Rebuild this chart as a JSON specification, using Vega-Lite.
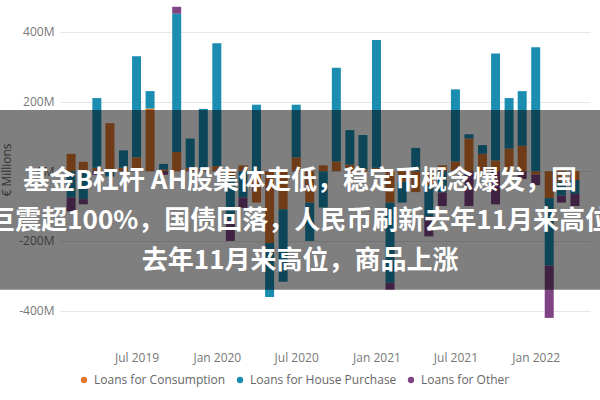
{
  "$schema": "https://vega.github.io/schema/vega-lite/v6.json",
  "width": 530,
  "height": 331,
  "autosize": "none",
  "padding": {"left": 60, "top": 4, "right": 10, "bottom": 65},
  "background": "white",
  "config": {
    "font": "Open Sans",
    "view": {"stroke": null},
    "legend": {
      "orient": "none",
      "legendX": 18,
      "legendY": 370,
      "direction": "horizontal",
      "symbolType": "circle",
      "symbolSize": 40,
      "labelFontSize": 12,
      "labelColor": "#666666",
      "columnPadding": 8,
      "labelOffset": 4
    }
  },
  "layer": [
    {
      "data": {
        "values": [
          {"month": "2019-02-01", "type": "Loans for Consumption", "value": 50},
          {"month": "2019-02-01", "type": "Loans for House Purchase", "value": -75},
          {"month": "2019-02-01", "type": "Loans for Other", "value": -40},
          {"month": "2019-03-01", "type": "Loans for Consumption", "value": 27},
          {"month": "2019-03-01", "type": "Loans for House Purchase", "value": -80},
          {"month": "2019-03-01", "type": "Loans for Other", "value": -15},
          {"month": "2019-04-01", "type": "Loans for Consumption", "value": 10},
          {"month": "2019-04-01", "type": "Loans for House Purchase", "value": 200},
          {"month": "2019-04-01", "type": "Loans for Other", "value": -10},
          {"month": "2019-05-01", "type": "Loans for Consumption", "value": 138},
          {"month": "2019-05-01", "type": "Loans for House Purchase", "value": -15},
          {"month": "2019-06-01", "type": "Loans for Consumption", "value": 10},
          {"month": "2019-06-01", "type": "Loans for House Purchase", "value": 50},
          {"month": "2019-07-01", "type": "Loans for Consumption", "value": 40},
          {"month": "2019-07-01", "type": "Loans for House Purchase", "value": 290},
          {"month": "2019-08-01", "type": "Loans for Consumption", "value": 180},
          {"month": "2019-08-01", "type": "Loans for House Purchase", "value": 50},
          {"month": "2019-09-01", "type": "Loans for Consumption", "value": 5},
          {"month": "2019-09-01", "type": "Loans for House Purchase", "value": 16},
          {"month": "2019-09-01", "type": "Loans for Other", "value": -10},
          {"month": "2019-10-01", "type": "Loans for Consumption", "value": 55},
          {"month": "2019-10-01", "type": "Loans for House Purchase", "value": 397},
          {"month": "2019-10-01", "type": "Loans for Other", "value": 20},
          {"month": "2019-11-01", "type": "Loans for Consumption", "value": 10},
          {"month": "2019-11-01", "type": "Loans for House Purchase", "value": 84},
          {"month": "2019-12-01", "type": "Loans for Consumption", "value": 8},
          {"month": "2019-12-01", "type": "Loans for House Purchase", "value": 171},
          {"month": "2020-01-01", "type": "Loans for Consumption", "value": 15},
          {"month": "2020-01-01", "type": "Loans for House Purchase", "value": 352},
          {"month": "2020-02-01", "type": "Loans for Consumption", "value": -20},
          {"month": "2020-02-01", "type": "Loans for House Purchase", "value": -120},
          {"month": "2020-02-01", "type": "Loans for Other", "value": -60},
          {"month": "2020-03-01", "type": "Loans for Consumption", "value": 17},
          {"month": "2020-03-01", "type": "Loans for House Purchase", "value": -75},
          {"month": "2020-03-01", "type": "Loans for Other", "value": -30},
          {"month": "2020-04-01", "type": "Loans for Consumption", "value": -90},
          {"month": "2020-04-01", "type": "Loans for House Purchase", "value": 191},
          {"month": "2020-05-01", "type": "Loans for Consumption", "value": -206},
          {"month": "2020-05-01", "type": "Loans for House Purchase", "value": -155},
          {"month": "2020-06-01", "type": "Loans for Consumption", "value": -109},
          {"month": "2020-06-01", "type": "Loans for House Purchase", "value": -208},
          {"month": "2020-07-01", "type": "Loans for Consumption", "value": 40},
          {"month": "2020-07-01", "type": "Loans for House Purchase", "value": 151},
          {"month": "2020-08-01", "type": "Loans for Consumption", "value": -90},
          {"month": "2020-08-01", "type": "Loans for House Purchase", "value": -110},
          {"month": "2020-09-01", "type": "Loans for Consumption", "value": 17},
          {"month": "2020-09-01", "type": "Loans for House Purchase", "value": -104},
          {"month": "2020-10-01", "type": "Loans for Consumption", "value": 28},
          {"month": "2020-10-01", "type": "Loans for House Purchase", "value": 269},
          {"month": "2020-11-01", "type": "Loans for Consumption", "value": 19},
          {"month": "2020-11-01", "type": "Loans for House Purchase", "value": 99},
          {"month": "2020-12-01", "type": "Loans for Consumption", "value": 5},
          {"month": "2020-12-01", "type": "Loans for House Purchase", "value": 99},
          {"month": "2021-01-01", "type": "Loans for Consumption", "value": 10},
          {"month": "2021-01-01", "type": "Loans for House Purchase", "value": 367},
          {"month": "2021-02-01", "type": "Loans for Consumption", "value": -90},
          {"month": "2021-02-01", "type": "Loans for House Purchase", "value": -230},
          {"month": "2021-02-01", "type": "Loans for Other", "value": -20},
          {"month": "2021-03-01", "type": "Loans for Consumption", "value": -30},
          {"month": "2021-03-01", "type": "Loans for House Purchase", "value": -60},
          {"month": "2021-04-01", "type": "Loans for Consumption", "value": -60},
          {"month": "2021-04-01", "type": "Loans for House Purchase", "value": 67},
          {"month": "2021-05-01", "type": "Loans for Consumption", "value": -40},
          {"month": "2021-05-01", "type": "Loans for House Purchase", "value": -90},
          {"month": "2021-05-01", "type": "Loans for Other", "value": -57},
          {"month": "2021-06-01", "type": "Loans for Consumption", "value": 17},
          {"month": "2021-06-01", "type": "Loans for House Purchase", "value": -61},
          {"month": "2021-06-01", "type": "Loans for Other", "value": -39},
          {"month": "2021-07-01", "type": "Loans for Consumption", "value": 28},
          {"month": "2021-07-01", "type": "Loans for House Purchase", "value": 207},
          {"month": "2021-08-01", "type": "Loans for Consumption", "value": 94},
          {"month": "2021-08-01", "type": "Loans for House Purchase", "value": 12},
          {"month": "2021-08-01", "type": "Loans for Other", "value": -100},
          {"month": "2021-09-01", "type": "Loans for Consumption", "value": 50},
          {"month": "2021-09-01", "type": "Loans for House Purchase", "value": 25},
          {"month": "2021-10-01", "type": "Loans for Consumption", "value": 31},
          {"month": "2021-10-01", "type": "Loans for House Purchase", "value": 307},
          {"month": "2021-10-01", "type": "Loans for Other", "value": -95},
          {"month": "2021-11-01", "type": "Loans for Consumption", "value": 65},
          {"month": "2021-11-01", "type": "Loans for House Purchase", "value": 145},
          {"month": "2021-12-01", "type": "Loans for Consumption", "value": 73},
          {"month": "2021-12-01", "type": "Loans for House Purchase", "value": 157},
          {"month": "2021-12-01", "type": "Loans for Other", "value": -22},
          {"month": "2022-01-01", "type": "Loans for Consumption", "value": -10},
          {"month": "2022-01-01", "type": "Loans for House Purchase", "value": 356},
          {"month": "2022-01-01", "type": "Loans for Other", "value": -30},
          {"month": "2022-02-01", "type": "Loans for Consumption", "value": -77},
          {"month": "2022-02-01", "type": "Loans for House Purchase", "value": -194},
          {"month": "2022-02-01", "type": "Loans for Other", "value": -150},
          {"month": "2022-03-01", "type": "Loans for Consumption", "value": -30},
          {"month": "2022-03-01", "type": "Loans for House Purchase", "value": -40},
          {"month": "2022-03-01", "type": "Loans for Other", "value": -20},
          {"month": "2022-04-01", "type": "Loans for Consumption", "value": -25},
          {"month": "2022-04-01", "type": "Loans for House Purchase", "value": -40},
          {"month": "2022-04-01", "type": "Loans for Other", "value": -35}
        ]
      },
      "mark": {"type": "bar", "width": 9},
      "encoding": {
        "x": {
          "field": "month",
          "type": "temporal",
          "title": null,
          "scale": {"domain": [{"year": 2019, "month": 1, "date": 18}, {"year": 2022, "month": 4, "date": 24}]},
          "axis": {
            "values": [
              {"year": 2019, "month": 7, "date": 1},
              {"year": 2020, "month": 1, "date": 1},
              {"year": 2020, "month": 7, "date": 1},
              {"year": 2021, "month": 1, "date": 1},
              {"year": 2021, "month": 7, "date": 1},
              {"year": 2022, "month": 1, "date": 1}
            ],
            "format": "%b %Y",
            "labelFontSize": 12,
            "labelColor": "#777777",
            "domain": false,
            "ticks": false,
            "grid": false,
            "labelPadding": 17
          }
        },
        "y": {
          "field": "value",
          "type": "quantitative",
          "stack": "zero",
          "title": "€ Millions",
          "scale": {"domain": [-470, 480], "nice": false},
          "axis": {
            "values": [-400, -200, 0, 200, 400],
            "labelExpr": "datum.value + 'M'",
            "labelFontSize": 12,
            "labelColor": "#777777",
            "grid": true,
            "gridColor": "#e6e6e6",
            "domain": false,
            "ticks": false,
            "labelPadding": 6,
            "titleFontSize": 12,
            "titleFontWeight": "normal",
            "titleColor": "#666666",
            "titlePadding": 5
          }
        },
        "color": {
          "field": "type",
          "type": "nominal",
          "title": null,
          "scale": {
            "domain": ["Loans for Consumption", "Loans for House Purchase", "Loans for Other"],
            "range": ["#E0782F", "#1A8DB0", "#7F4483"]
          }
        },
        "order": {"field": "type", "sort": "ascending"}
      }
    },
    {
      "data": {"values": [{}]},
      "mark": {"type": "rect", "fill": "#000000", "opacity": 0.5},
      "encoding": {
        "x": {"datum": {"year": 2018, "month": 8, "date": 1}, "type": "temporal", "title": null},
        "x2": {"datum": {"year": 2022, "month": 8, "date": 1}},
        "y": {"datum": 176, "type": "quantitative", "title": null},
        "y2": {"datum": -340}
      }
    },
    {
      "data": {"values": [{}]},
      "mark": {
        "type": "text",
        "text": ["基金B杠杆 AH股集体走低，稳定币概念爆发，国", "巨震超100%，国债回落，人民币刷新去年11月来高位", "去年11月来高位，商品上涨"],
        "font": "Noto Sans CJK SC",
        "fontSize": 26,
        "fontWeight": "bold",
        "color": "#ffffff",
        "align": "center",
        "baseline": "middle",
        "lineHeight": 40
      },
      "encoding": {
        "x": {"datum": {"year": 2020, "month": 7, "date": 10}, "type": "temporal", "title": null},
        "y": {"datum": -28, "type": "quantitative", "title": null}
      }
    }
  ]
}
